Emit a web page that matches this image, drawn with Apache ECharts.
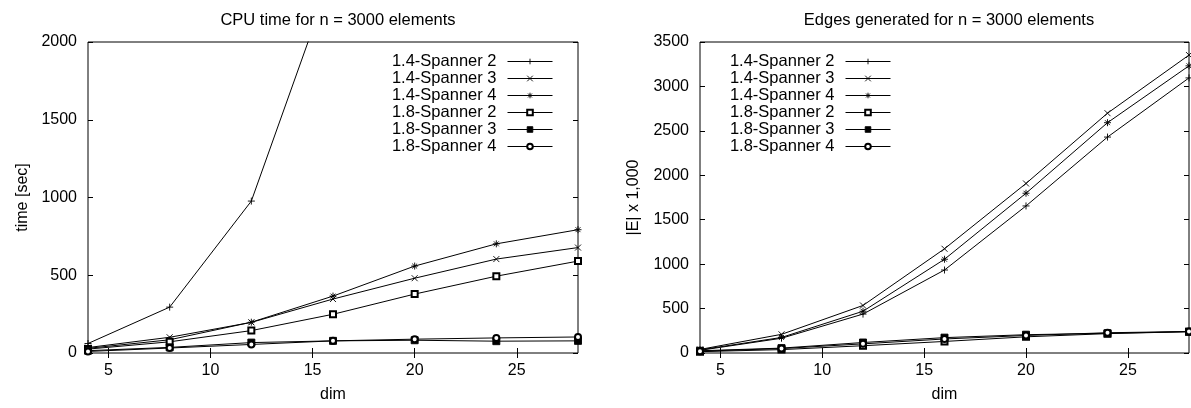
<!DOCTYPE html>
<html>
<head>
<meta charset="utf-8">
<script src="https://cdn.jsdelivr.net/npm/echarts@6/dist/echarts.min.js"></script>
<style>
html,body{margin:0;padding:0;background:#fff;}
#chart{width:1191px;height:408px;}
</style>
</head>
<body>
<div id="chart"></div>
<script>
// ---- data ----
const dims = [4, 8, 12, 16, 20, 24, 28];
const seriesNames = ['1.4-Spanner 2', '1.4-Spanner 3', '1.4-Spanner 4', '1.8-Spanner 2', '1.8-Spanner 3', '1.8-Spanner 4'];

// CPU time [sec] (1.4-Spanner 2 leaves the plotted range after dim 12)
const cpu14s2 = [61, 295, 977, 2450, null, null, null];
const cpu14s3 = [35, 101, 197, 347, 481, 604, 678];
const cpu14s4 = [30, 85, 198, 366, 559, 702, 793];
const cpu18s2 = [25, 72, 144, 249, 379, 494, 591];
const cpu18s3 = [15, 36, 67, 78, 82, 76, 78];
const cpu18s4 = [10, 32, 55, 78, 89, 97, 103];

// Edges |E| x 1,000
const edg14s2 = [30, 166, 438, 934, 1655, 2430, 3096];
const edg14s3 = [40, 210, 535, 1173, 1908, 2699, 3353];
const edg14s4 = [35, 175, 470, 1055, 1798, 2592, 3232];
const edg18s2 = [15, 38, 82, 130, 182, 218, 240];
const edg18s3 = [25, 55, 118, 173, 206, 222, 240];
const edg18s4 = [20, 50, 103, 158, 197, 228, 242];

const xTicks = [5, 10, 15, 20, 25];
const cpuTicks = [0, 500, 1000, 1500, 2000];
const edgeTicks = [0, 500, 1000, 1500, 2000, 2500, 3000, 3500];

const titles = ['CPU time for n = 3000 elements', 'Edges generated for n = 3000 elements'];
const xName = 'dim';
const yNames = ['time [sec]', '|E| x 1,000'];

// ---- styling ----
const FONT = "'Liberation Sans', Arial, Helvetica, sans-serif";
const symbols = [
  'path://M0,5L10,5M5,0L5,10',
  'path://M0,0L10,10M10,0L0,10',
  'path://M0,5L10,5M5,0L5,10M1.5,1.5L8.5,8.5M8.5,1.5L1.5,8.5',
  'emptyRect',
  'rect',
  'emptyCircle'
];
const symbolSizes = [7, 6, 7, 6, 7, 6];

function pairs(vals) { return dims.map((d, i) => [d, vals[i]]); }

const cpuSets = [cpu14s2, cpu14s3, cpu14s4, cpu18s2, cpu18s3, cpu18s4];
const edgSets = [edg14s2, edg14s3, edg14s4, edg18s2, edg18s3, edg18s4];

function mkSeries(sets, xi, yi) {
  return sets.map((vals, k) => ({
    type: 'line',
    name: seriesNames[k],
    xAxisIndex: xi,
    yAxisIndex: yi,
    data: pairs(vals),
    symbol: symbols[k],
    symbolSize: symbolSizes[k],
    showAllSymbol: true,
    clip: true,
    connectNulls: false,
    animation: false,
    lineStyle: { color: '#000', width: 1 },
    itemStyle: { color: '#000', borderColor: '#000', borderWidth: 0.9 },
    emphasis: { disabled: true }
  }));
}

const labelStyle = { color: '#000', fontSize: 16, fontFamily: FONT };

function xAxisDef(gi, pos) {
  const bottom = pos === 'bottom';
  return {
    type: 'value', gridIndex: gi, position: pos, min: 4, max: 28,
    name: bottom ? xName : '', nameLocation: 'middle', nameGap: 34,
    nameTextStyle: labelStyle,
    axisLine: { show: false },
    splitLine: { show: false },
    axisTick: { show: true, inside: true, length: 5, lineStyle: { color: '#000' }, customValues: xTicks },
    axisLabel: Object.assign({ show: bottom, margin: 10, customValues: xTicks,
      formatter: v => xTicks.indexOf(v) >= 0 ? String(v) : '' }, labelStyle)
  };
}
function yAxisDef(gi, pos, ticks, name, gap) {
  const left = pos === 'left';
  return {
    type: 'value', gridIndex: gi, position: pos, min: ticks[0], max: ticks[ticks.length - 1], interval: 500,
    name: left ? name : '', nameLocation: 'middle', nameGap: gap,
    nameTextStyle: labelStyle,
    axisLine: { show: false },
    splitLine: { show: false },
    axisTick: { show: true, inside: true, length: 5, lineStyle: { color: '#000' } },
    axisLabel: Object.assign({ show: left, margin: 11, formatter: v => String(v) }, labelStyle)
  };
}

function legendDef(rightPx) {
  return {
    data: seriesNames,
    orient: 'vertical',
    right: rightPx,
    top: 48,
    align: 'right',
    itemWidth: 45,
    itemHeight: 7,
    itemGap: 0,
    selectedMode: false,
    lineStyle: { width: 1, color: '#000' },
    itemStyle: { borderWidth: 0.9 },
    textStyle: { color: '#000', fontSize: 16.5, fontFamily: FONT, lineHeight: 15.8, padding: [0, 6, 0, 0] }
  };
}

const option = {
  backgroundColor: '#fff',
  animation: false,
  title: [
    { text: titles[0], left: 333, top: 7, textAlign: 'center',
      textStyle: { color: '#000', fontSize: 16.5, fontWeight: 'normal', fontFamily: FONT } },
    { text: titles[1], left: 944, top: 7, textAlign: 'center',
      textStyle: { color: '#000', fontSize: 16.5, fontWeight: 'normal', fontFamily: FONT } }
  ],
  grid: [
    { left: 88, top: 42, width: 490, height: 317, show: true, borderColor: '#000', borderWidth: 1, backgroundColor: 'transparent' },
    { left: 700, top: 42, width: 489, height: 317, show: true, borderColor: '#000', borderWidth: 1, backgroundColor: 'transparent' }
  ],
  xAxis: [xAxisDef(0, 'bottom'), xAxisDef(0, 'top'), xAxisDef(1, 'bottom'), xAxisDef(1, 'top')],
  yAxis: [
    yAxisDef(0, 'left', cpuTicks, yNames[0], 57),
    yAxisDef(0, 'right', cpuTicks, '', 0),
    yAxisDef(1, 'left', edgeTicks, yNames[1], 58),
    yAxisDef(1, 'right', edgeTicks, '', 0)
  ],
  legend: [legendDef(1191 - 558), legendDef(1191 - 896)],
  series: [].concat(mkSeries(cpuSets, 0, 0), mkSeries(edgSets, 2, 2))
};

const chart = echarts.init(document.getElementById('chart'), null, { renderer: 'canvas' });
chart.setOption(option);
</script>
</body>
</html>
